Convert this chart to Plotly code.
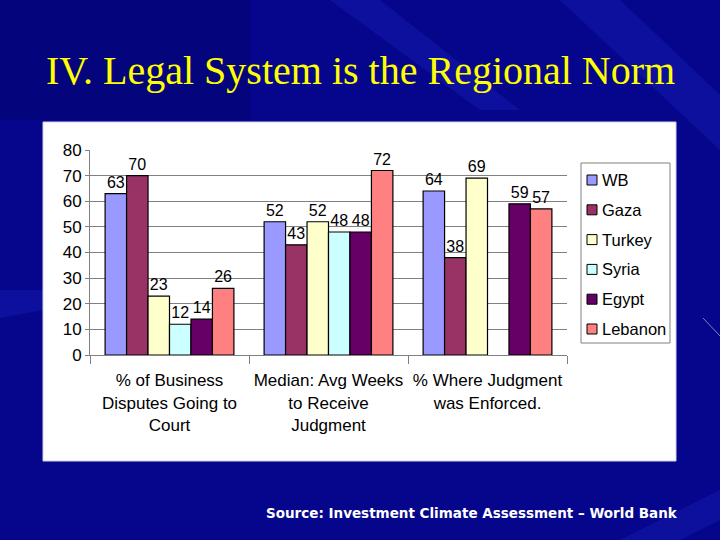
import plotly.graph_objects as go

categories = ["% of Business<br>Disputes Going to<br>Court",
              "Median: Avg Weeks<br>to Receive<br>Judgment",
              "% Where Judgment<br>was Enforced."]
series_names = ["WB", "Gaza", "Turkey", "Syria", "Egypt", "Lebanon"]
wb = [63, 52, 64]
gaza = [70, 43, 38]
turkey = [23, 52, 69]
syria = [12, 48, None]
egypt = [14, 48, 59]
lebanon = [26, 72, 57]
y_ticks = [0, 10, 20, 30, 40, 50, 60, 70, 80]

values = [wb, gaza, turkey, syria, egypt, lebanon]
colors = ["#9999FF", "#993366", "#FFFFCC", "#CCFFFF", "#660066", "#FF8080"]

fig = go.Figure()
for name, vals, col in zip(series_names, values, colors):
    fig.add_trace(go.Bar(
        name=name, x=categories, y=vals, marker_color=col,
        marker_line=dict(color="black", width=1.2),
        text=[("" if v is None else str(v)) for v in vals],
        textposition="outside", cliponaxis=False,
        textfont=dict(family="Liberation Sans", size=16, color="black"),
        showlegend=False,
    ))

W, H = 720, 540
L, R, T, B = 90, 153, 150, 185
PW, PH = W - L - R, H - T - B


def px(x):
    return (x - L) / PW


def py(y):
    return (H - B - y) / PH


BG = "#06068C"
fig.update_layout(
    width=W, height=H,
    paper_bgcolor=BG,
    plot_bgcolor="#C0C0C0",
    barmode="group", bargap=0.19, bargroupgap=0,
    margin=dict(l=L, r=R, t=T, b=B, autoexpand=False),
    font=dict(family="Liberation Sans", size=17, color="black"),
)
fig.update_yaxes(range=[0, 80], tickvals=y_ticks, showgrid=True,
                 gridcolor="#808080", gridwidth=1, zeroline=False,
                 showline=True, linecolor="#808080", ticks="outside",
                 ticklen=4, tickcolor="#808080",
                 tickfont=dict(size=17, color="black"))
fig.update_xaxes(showline=True, linecolor="#808080", ticks="outside",
                 tickson="boundaries", ticklen=8, tickcolor="#808080",
                 ticklabelstandoff=10,
                 tickfont=dict(size=17, color="black"), mirror=False)

# background streaks
streaks = [
    [(560, 0), (620, 0), (720, 95), (720, 150)],
    [(330, 0), (380, 0), (520, 110), (480, 110)],
    [(0, 290), (43, 290), (43, 310), (0, 318)],
    [(620, 540), (720, 490), (720, 520), (680, 540)],
]
for pts in streaks:
    path = "M " + " L ".join(f"{px(x)},{py(y)}" for x, y in pts) + " Z"
    fig.add_shape(type="path", xref="paper", yref="paper", layer="below",
                  path=path, fillcolor="rgba(40,60,220,0.2)", line=dict(width=0))
fig.add_shape(type="rect", xref="paper", yref="paper", layer="below",
              x0=px(0), x1=px(250), y0=py(120), y1=py(0),
              fillcolor="rgba(0,0,60,0.2)", line=dict(width=0))

# white chart panel
fig.add_shape(type="rect", xref="paper", yref="paper", layer="below",
              x0=px(43), x1=px(676), y0=py(461), y1=py(122),
              fillcolor="white", line=dict(color="#D0D0E0", width=1))
# decorative streak line
fig.add_shape(type="line", xref="paper", yref="paper",
              x0=px(703), x1=px(720), y0=py(318), y1=py(336),
              line=dict(color="#8080C0", width=1))

# legend (Excel style) built from the series names and colours
fig.add_shape(type="rect", xref="paper", yref="paper",
              x0=px(581), x1=px(670), y0=py(343), y1=py(163),
              fillcolor="white", line=dict(color="#808080", width=1))
for i, (name, col) in enumerate(zip(series_names, colors)):
    yc = 180 + i * 29.8
    fig.add_shape(type="rect", xref="paper", yref="paper",
                  x0=px(587), x1=px(597), y0=py(yc + 5), y1=py(yc - 5),
                  fillcolor=col, line=dict(color="black", width=1))
    fig.add_annotation(text=name, xref="paper", yref="paper",
                       x=px(600), y=py(yc), xanchor="left", yanchor="middle",
                       showarrow=False,
                       font=dict(family="Liberation Sans", size=16.5, color="black"))

fig.add_annotation(text="IV. Legal System is the Regional Norm",
                   xref="paper", yref="paper",
                   x=px(360), y=py(70),
                   xanchor="center", yanchor="middle", showarrow=False,
                   font=dict(family="Liberation Serif", size=40, color="#FFFF00"))
fig.add_annotation(text="<b>Source: Investment Climate Assessment – World Bank</b>",
                   xref="paper", yref="paper",
                   x=px(680), y=py(513),
                   xanchor="right", yanchor="middle", showarrow=False,
                   font=dict(family="DejaVu Sans", size=13.5, color="white"))

fig.write_html("out.html", config={"displayModeBar": False},
               post_script="document.body.style.margin='0';document.body.style.background='" + BG + "';")
